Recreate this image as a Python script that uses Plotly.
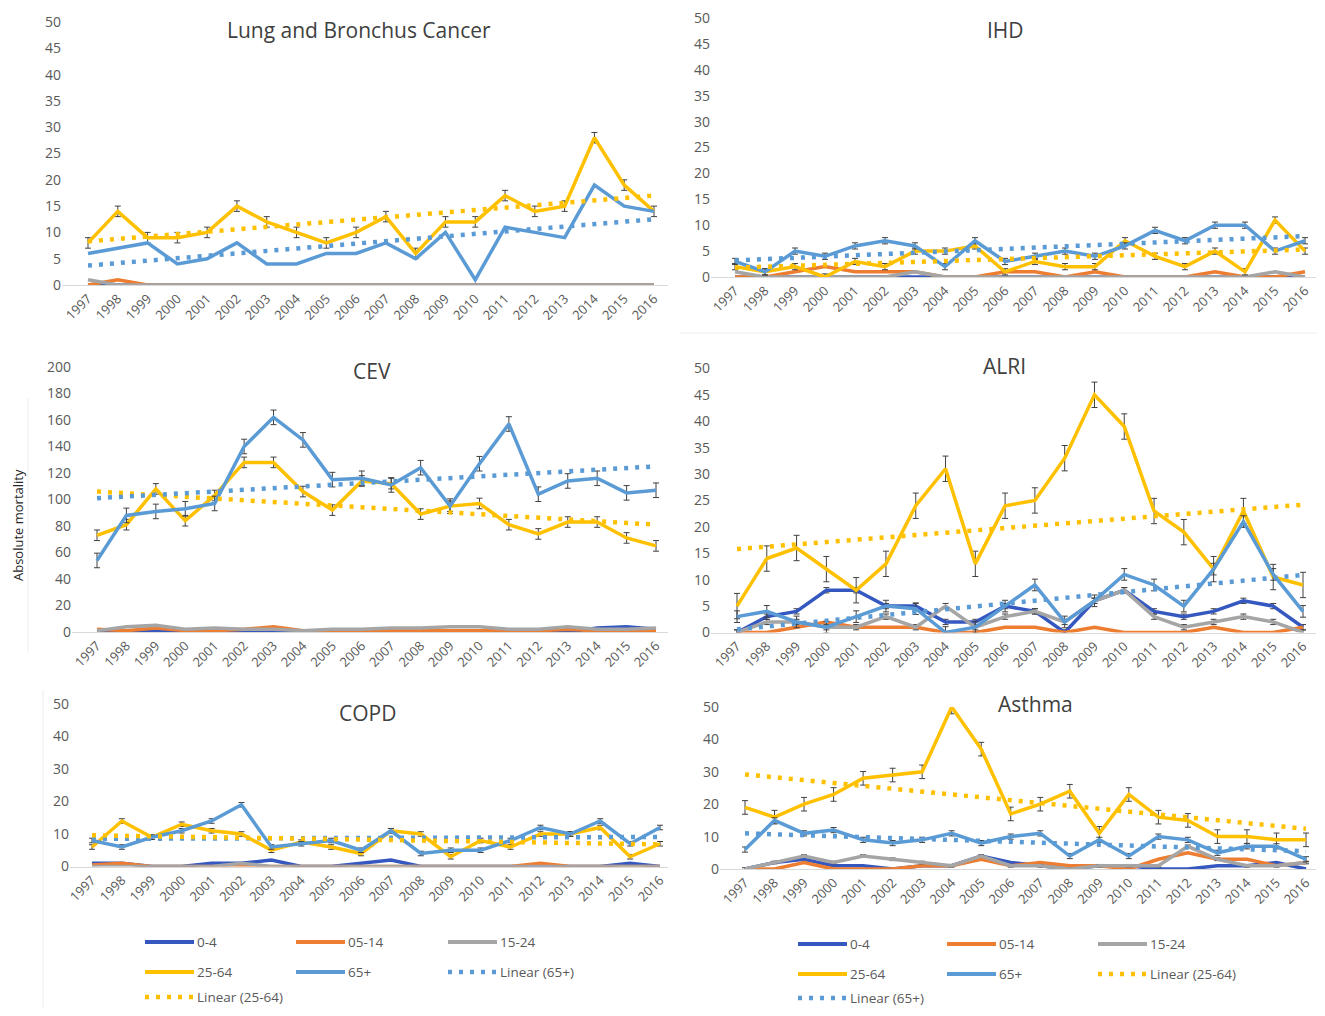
import plotly.graph_objects as go

# page body has an 8px margin; figure coordinates below are given in
# reference-image pixels and shifted by OFF
W, H = 1325, 1016
OFF = 8
FW, FH = W - 2 * OFF, H - 2 * OFF
FONT = "Open Sans"
TXT = "#595959"


def px(x):
    return (x - OFF) / FW


def py(y):
    return 1 - (y - OFF) / FH


years = [1997, 1998, 1999, 2000, 2001, 2002, 2003, 2004, 2005, 2006,
         2007, 2008, 2009, 2010, 2011, 2012, 2013, 2014, 2015, 2016]
year_labels = [str(y) for y in years]
age_groups = ["0-4", "05-14", "15-24", "25-64", "65+"]
colors = {"0-4": "#3558C0", "05-14": "#ED7D31", "15-24": "#A5A5A5",
          "25-64": "#FFC000", "65+": "#5B9BD5"}

# ---------------- Lung and Bronchus Cancer ----------------
lung_0_4   = [0, 0, 0, 0, 0, 0, 0, 0, 0, 0, 0, 0, 0, 0, 0, 0, 0, 0, 0, 0]
lung_05_14 = [0, 1, 0, 0, 0, 0, 0, 0, 0, 0, 0, 0, 0, 0, 0, 0, 0, 0, 0, 0]
lung_15_24 = [1, 0, 0, 0, 0, 0, 0, 0, 0, 0, 0, 0, 0, 0, 0, 0, 0, 0, 0, 0]
lung_25_64 = [8, 14, 9, 9, 10, 15, 12, 10, 8, 10, 13, 6, 12, 12, 17, 14, 15, 28, 19, 14]
lung_65    = [6, 7, 8, 4, 5, 8, 4, 4, 6, 6, 8, 5, 10, 1, 11, 10, 9, 19, 15, 14]
lung_err   = {"25-64": 1.0}
lung_trend_25_64 = [8.3, 17.0]
lung_trend_65    = [3.7, 12.5]

# ---------------- IHD ----------------
ihd_0_4   = [0, 0, 0, 0, 0, 0, 0, 0, 0, 0, 0, 0, 0, 0, 0, 0, 0, 0, 0, 0]
ihd_05_14 = [0, 0, 1, 2, 1, 1, 1, 0, 0, 1, 1, 0, 1, 0, 0, 0, 1, 0, 0, 1]
ihd_15_24 = [1, 0, 0, 0, 0, 0, 1, 0, 0, 0, 0, 0, 0, 0, 0, 0, 0, 0, 1, 0]
ihd_25_64 = [2, 1, 2, 0, 3, 2, 5, 5, 6, 1, 3, 2, 2, 7, 4, 2, 5, 1, 11, 5]
ihd_65    = [3, 1, 5, 4, 6, 7, 6, 2, 7, 3, 4, 5, 4, 6, 9, 7, 10, 10, 5, 7]
ihd_err   = {"25-64": 0.6, "65+": 0.6}
ihd_trend_25_64 = [1.8, 5.3]
ihd_trend_65    = [3.2, 7.9]

# ---------------- CEV ----------------
cev_0_4   = [0, 0, 1, 0, 0, 0, 0, 0, 0, 0, 0, 0, 1, 0, 0, 0, 0, 3, 4, 2]
cev_05_14 = [2, 1, 3, 1, 1, 2, 4, 1, 1, 1, 1, 1, 1, 1, 1, 1, 2, 1, 1, 1]
cev_15_24 = [1, 4, 5, 2, 3, 2, 2, 1, 2, 2, 3, 3, 4, 4, 2, 2, 4, 2, 2, 3]
cev_25_64 = [73, 81, 108, 84, 103, 128, 128, 106, 92, 114, 112, 89, 95, 97, 81, 74, 83, 83, 71, 65]
cev_65    = [54, 88, 91, 93, 97, 140, 162, 145, 115, 116, 111, 124, 95, 127, 157, 104, 114, 116, 105, 107]
cev_err   = {"25-64": 4.0, "65+": 5.5}
cev_trend_25_64 = [106, 81]
cev_trend_65    = [101, 125]

# ---------------- ALRI ----------------
alri_0_4   = [0, 3, 4, 8, 8, 5, 5, 2, 2, 5, 4, 0, 6, 8, 4, 3, 4, 6, 5, 1]
alri_05_14 = [0, 0, 1, 2, 1, 1, 1, 0, 0, 1, 1, 0, 1, 0, 0, 0, 1, 0, 0, 1]
alri_15_24 = [0, 2, 2, 1, 1, 3, 1, 5, 1, 3, 4, 2, 6, 8, 3, 1, 2, 3, 2, 0]
alri_25_64 = [5, 14, 16, 12, 8, 13, 24, 31, 13, 24, 25, 33, 45, 39, 23, 19, 12, 23, 10.5, 9]
alri_65    = [3, 4, 2, 1, 3, 5, 4.5, 0, 1, 5, 9, 2, 6, 11, 9, 5, 12, 21, 11, 4]
alri_err   = {"0-4": 0.5, "15-24": 0.5, "25-64": 2.4, "65+": 1.1}
alri_trend_25_64 = [15.8, 24.2]
alri_trend_65    = [0.6, 10.9]

# ---------------- COPD ----------------
copd_0_4   = [1, 1, 0, 0, 1, 1, 2, 0, 0, 1, 2, 0, 0, 0, 0, 0, 0, 0, 1, 0]
copd_05_14 = [0.5, 1, 0, 0, 0, 0, 0, 0, 0, 0, 0, 0, 0, 0, 0, 1, 0, 0, 0, 0]
copd_15_24 = [0, 0, 0, 0, 0, 1, 0, 0, 0, 0, 0, 0, 0, 0, 0, 0, 0, 0, 0, 0]
copd_25_64 = [6, 14, 9, 13, 11, 10, 5, 7.5, 6, 4, 11, 10, 3, 8, 6, 10, 10, 12, 3, 7]
copd_65    = [8, 6, 9, 11, 14, 19, 6, 7, 8, 5, 11, 4, 5, 5, 8, 12, 10, 14, 7, 12]
copd_err   = {"25-64": 0.7, "65+": 0.7}
copd_trend_25_64 = [9.6, 6.8]
copd_trend_65    = [8.5, 9.1]

# ---------------- Asthma ----------------
asthma_0_4   = [0, 2, 3, 1, 1, 0, 1, 1, 4, 2, 1, 0, 1, 1, 0, 0, 1, 1, 2, 0]
asthma_05_14 = [0, 0, 2, 0, 0, 0, 1, 1, 3, 1, 2, 1, 1, 0, 3, 5, 3, 3, 1, 2]
asthma_15_24 = [0, 2, 4, 2, 4, 3, 2, 1, 4, 1, 1, 0, 1, 1, 1, 7, 3, 1, 1, 2]
asthma_25_64 = [19, 16, 20, 23, 28, 29, 30, 50, 37, 17, 20, 24, 11, 23, 16, 15, 10, 10, 9, 9]
asthma_65    = [6, 15, 11, 12, 9, 8, 9, 11, 8, 10, 11, 4, 9, 4, 10, 9, 5, 7, 7, 3]
asthma_err   = {"25-64": 2.1, "65+": 0.8, "15-24": 0.4}
asthma_trend_25_64 = [29.2, 12.4]
asthma_trend_65    = [11.0, 5.5]

trend_years = [1997, 2016]

# layout in reference pixels: (left, right, x of 1997, x of 2016, y of 0, y of top tick)
panels = [
    dict(title="Lung and Bronchus Cancer", tpos=(359, 30),
         series=[lung_0_4, lung_05_14, lung_15_24, lung_25_64, lung_65], err=lung_err,
         trends=[("25-64", lung_trend_25_64), ("65+", lung_trend_65)],
         box=(62, 668, 88, 654, 285, 22), ymax=50, dtick=5),
    dict(title="IHD", tpos=(1005, 30),
         series=[ihd_0_4, ihd_05_14, ihd_15_24, ihd_25_64, ihd_65], err=ihd_err,
         trends=[("25-64", ihd_trend_25_64), ("65+", ihd_trend_65)],
         box=(711, 1316, 735, 1305, 277, 18), ymax=50, dtick=5),
    dict(title="CEV", tpos=(372, 371),
         series=[cev_0_4, cev_05_14, cev_15_24, cev_25_64, cev_65], err=cev_err,
         trends=[("25-64", cev_trend_25_64), ("65+", cev_trend_65)],
         box=(72, 668, 97, 656, 632, 367), ymax=200, dtick=20),
    dict(title="ALRI", tpos=(1004, 366),
         series=[alri_0_4, alri_05_14, alri_15_24, alri_25_64, alri_65], err=alri_err,
         trends=[("25-64", alri_trend_25_64), ("65+", alri_trend_65)],
         box=(711, 1316, 737, 1303, 632.5, 368.4), ymax=50, dtick=5),
    dict(title="COPD", tpos=(367, 713),
         series=[copd_0_4, copd_05_14, copd_15_24, copd_25_64, copd_65], err=copd_err,
         trends=[("65+", copd_trend_65), ("25-64", copd_trend_25_64)],
         box=(70, 668, 92, 660, 866.5, 704), ymax=50, dtick=10),
    dict(title="Asthma", tpos=(1035, 704),
         series=[asthma_0_4, asthma_05_14, asthma_15_24, asthma_25_64, asthma_65], err=asthma_err,
         trends=[("25-64", asthma_trend_25_64), ("65+", asthma_trend_65)],
         box=(720, 1316, 745, 1306, 869, 707), ymax=50, dtick=10),
]

TREND_DASH = "4px,7px"

fig = go.Figure()
annotations = []
shapes = []

for i, p in enumerate(panels):
    n = "" if i == 0 else str(i + 1)
    left, right, x0, x1, y0, ytop = p["box"]
    step = (x1 - x0) / 19.0
    r0 = 1997 - (x0 - left) / step
    r1 = 2016 + (right - x1) / step
    fig.update_layout(**{
        "xaxis" + n: dict(domain=[px(left), px(right)], range=[r0, r1],
                          anchor="y" + n, tickmode="array", tickvals=years,
                          ticktext=year_labels, tickangle=-45, showgrid=False,
                          zeroline=False, showline=True, linecolor="#D9D9D9",
                          linewidth=1, ticks="", automargin=False,
                          ticklabeloverflow="allow",
                          tickfont=dict(family=FONT, size=13, color=TXT)),
        "yaxis" + n: dict(domain=[py(y0), py(ytop)], range=[0, p["ymax"]],
                          anchor="x" + n, dtick=p["dtick"], showgrid=False,
                          zeroline=False, showline=False, ticks="", automargin=False,
                          ticklabeloverflow="allow",
                          tickfont=dict(family=FONT, size=14, color=TXT)),
    })
    for name, vals in zip(age_groups, p["series"]):
        e = p["err"].get(name)
        fig.add_trace(go.Scatter(
            x=years, y=vals, mode="lines", name=name, showlegend=False,
            line=dict(color=colors[name], width=3.5),
            error_y=dict(type="constant", value=e, color="#404040",
                         thickness=1, width=3, visible=True) if e else None,
            xaxis="x" + n, yaxis="y" + n))
    for name, vals in p["trends"]:
        fig.add_trace(go.Scatter(
            x=trend_years, y=vals, mode="lines", name="Linear (" + name + ")",
            showlegend=False,
            line=dict(color=colors[name], width=4.5, dash=TREND_DASH),
            xaxis="x" + n, yaxis="y" + n))
    annotations.append(dict(text=p["title"], x=px(p["tpos"][0]), y=py(p["tpos"][1]),
                            xref="paper", yref="paper", xanchor="center", yanchor="middle",
                            showarrow=False,
                            font=dict(family=FONT, size=21, color="#404040")))

# y axis title
annotations.append(dict(text="Absolute mortality", x=px(18), y=py(525),
                        xref="paper", yref="paper", textangle=-90, showarrow=False,
                        xanchor="center", yanchor="middle",
                        font=dict(family=FONT, size=13, color="#262626")))

# legends drawn beneath the bottom panels
copd_legend = [("0-4", "0-4", False), ("05-14", "05-14", False), ("15-24", "15-24", False),
               ("25-64", "25-64", False), ("65+", "65+", False),
               ("Linear (65+)", "65+", True), ("Linear (25-64)", "25-64", True)]
asthma_legend = [("0-4", "0-4", False), ("05-14", "05-14", False), ("15-24", "15-24", False),
                 ("25-64", "25-64", False), ("65+", "65+", False),
                 ("Linear (25-64)", "25-64", True), ("Linear (65+)", "65+", True)]


def draw_legend(entries, cols, rows):
    for k, (label, key, dotted) in enumerate(entries):
        cx = cols[k % 3]
        ry = rows[k // 3]
        shapes.append(dict(type="line", xref="paper", yref="paper",
                           x0=px(cx), x1=px(cx + 49), y0=py(ry), y1=py(ry),
                           line=dict(color=colors[key], width=4.5 if dotted else 4,
                                     dash=TREND_DASH if dotted else "solid")))
        annotations.append(dict(text=label, x=px(cx + 51), y=py(ry),
                                xref="paper", yref="paper", xanchor="left",
                                yanchor="middle", showarrow=False, borderpad=0,
                                font=dict(family=FONT, size=13.5, color=TXT)))


draw_legend(copd_legend, [145, 296, 448], [942, 972, 997])
draw_legend(asthma_legend, [798, 947, 1098], [944, 974, 998])

# faint chart-area borders
for x0_, y0_, x1_, y1_ in [(680, 333, 1317, 333), (28, 398, 28, 653), (43, 690, 43, 1008)]:
    shapes.append(dict(type="line", xref="paper", yref="paper",
                       x0=px(x0_), x1=px(x1_), y0=py(y0_), y1=py(y1_),
                       line=dict(color="#EDEDED", width=1)))

fig.update_layout(width=FW, height=FH, margin=dict(l=0, r=0, t=0, b=0),
                  paper_bgcolor="white", plot_bgcolor="white",
                  annotations=annotations, shapes=shapes, showlegend=False,
                  font=dict(family=FONT))

fig.write_html("out.html")
